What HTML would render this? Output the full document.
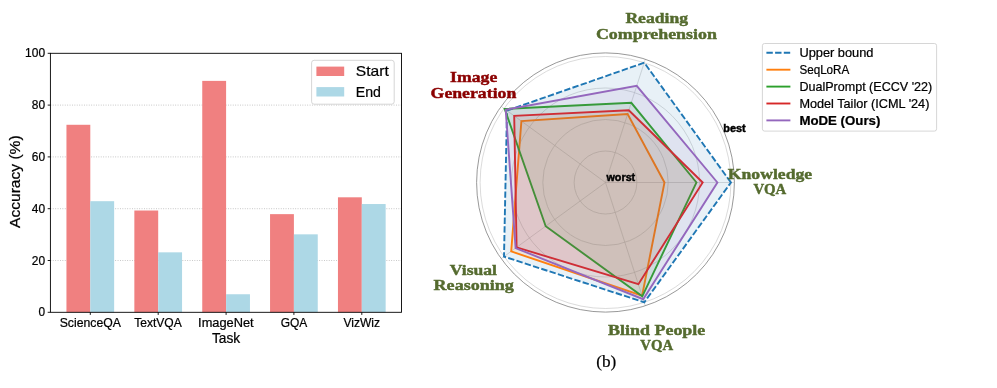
<!DOCTYPE html>
<html><head><meta charset="utf-8"><title>fig</title>
<style>
html,body{margin:0;padding:0;background:#fff;}
body{width:997px;height:388px;overflow:hidden;}
svg{display:block;will-change:transform;}
.sans{font-family:"Liberation Sans",sans-serif;}
.serif{font-family:"Liberation Serif",serif;}
text.sans{stroke:#000;stroke-width:0.22px;}
text.bl{stroke-width:0.45px;}
</style></head><body>
<svg width="997" height="388" viewBox="0 0 997 388">
<rect x="0" y="0" width="997" height="388" fill="#ffffff"/>

<g id="bar">
<line x1="50.4" y1="260.50" x2="401.5" y2="260.50" stroke="#b0b0b0" stroke-opacity="0.85" stroke-width="0.9" stroke-dasharray="0.9,1.5"/>
<line x1="50.4" y1="208.70" x2="401.5" y2="208.70" stroke="#b0b0b0" stroke-opacity="0.85" stroke-width="0.9" stroke-dasharray="0.9,1.5"/>
<line x1="50.4" y1="156.90" x2="401.5" y2="156.90" stroke="#b0b0b0" stroke-opacity="0.85" stroke-width="0.9" stroke-dasharray="0.9,1.5"/>
<line x1="50.4" y1="105.10" x2="401.5" y2="105.10" stroke="#b0b0b0" stroke-opacity="0.85" stroke-width="0.9" stroke-dasharray="0.9,1.5"/>
<rect x="66.45" y="124.78" width="23.85" height="187.52" fill="#f08080"/>
<rect x="90.30" y="201.19" width="23.85" height="111.11" fill="#add8e6"/>
<rect x="134.35" y="210.51" width="23.85" height="101.79" fill="#f08080"/>
<rect x="158.20" y="252.34" width="23.85" height="59.96" fill="#add8e6"/>
<rect x="202.25" y="80.88" width="23.85" height="231.42" fill="#f08080"/>
<rect x="226.10" y="294.25" width="23.85" height="18.05" fill="#add8e6"/>
<rect x="270.05" y="214.14" width="23.85" height="98.16" fill="#f08080"/>
<rect x="293.90" y="234.34" width="23.85" height="77.96" fill="#add8e6"/>
<rect x="337.95" y="197.30" width="23.85" height="115.00" fill="#f08080"/>
<rect x="361.80" y="204.04" width="23.85" height="108.26" fill="#add8e6"/>
<rect x="50.4" y="53.3" width="351.1" height="259.0" fill="none" stroke="#000" stroke-width="0.9"/>
<line x1="47.7" y1="312.30" x2="50.4" y2="312.30" stroke="#000" stroke-width="0.9"/>
<text class="sans" x="38.5" y="316.30" font-size="11.9" textLength="6.6" lengthAdjust="spacingAndGlyphs" fill="#000">0</text>
<line x1="47.7" y1="260.50" x2="50.4" y2="260.50" stroke="#000" stroke-width="0.9"/>
<text class="sans" x="31.8" y="264.50" font-size="11.9" textLength="13.3" lengthAdjust="spacingAndGlyphs" fill="#000">20</text>
<line x1="47.7" y1="208.70" x2="50.4" y2="208.70" stroke="#000" stroke-width="0.9"/>
<text class="sans" x="31.8" y="212.70" font-size="11.9" textLength="13.3" lengthAdjust="spacingAndGlyphs" fill="#000">40</text>
<line x1="47.7" y1="156.90" x2="50.4" y2="156.90" stroke="#000" stroke-width="0.9"/>
<text class="sans" x="31.8" y="160.90" font-size="11.9" textLength="13.3" lengthAdjust="spacingAndGlyphs" fill="#000">60</text>
<line x1="47.7" y1="105.10" x2="50.4" y2="105.10" stroke="#000" stroke-width="0.9"/>
<text class="sans" x="31.8" y="109.10" font-size="11.9" textLength="13.3" lengthAdjust="spacingAndGlyphs" fill="#000">80</text>
<line x1="47.7" y1="53.30" x2="50.4" y2="53.30" stroke="#000" stroke-width="0.9"/>
<text class="sans" x="25.1" y="57.30" font-size="11.9" textLength="20.0" lengthAdjust="spacingAndGlyphs" fill="#000">100</text>
<line x1="90.3" y1="312.3" x2="90.3" y2="314.9" stroke="#000" stroke-width="0.9"/>
<line x1="158.2" y1="312.3" x2="158.2" y2="314.9" stroke="#000" stroke-width="0.9"/>
<line x1="226.1" y1="312.3" x2="226.1" y2="314.9" stroke="#000" stroke-width="0.9"/>
<line x1="293.9" y1="312.3" x2="293.9" y2="314.9" stroke="#000" stroke-width="0.9"/>
<line x1="361.8" y1="312.3" x2="361.8" y2="314.9" stroke="#000" stroke-width="0.9"/>
<text class="sans" x="59.7" y="326.6" font-size="12.6" textLength="61.2" lengthAdjust="spacingAndGlyphs" fill="#000">ScienceQA</text>
<text class="sans" x="134.2" y="326.6" font-size="12.6" textLength="47.6" lengthAdjust="spacingAndGlyphs" fill="#000">TextVQA</text>
<text class="sans" x="198.1" y="326.6" font-size="12.6" textLength="55.6" lengthAdjust="spacingAndGlyphs" fill="#000">ImageNet</text>
<text class="sans" x="280.7" y="326.6" font-size="12.6" textLength="26.6" lengthAdjust="spacingAndGlyphs" fill="#000">GQA</text>
<text class="sans" x="343.4" y="326.6" font-size="12.6" textLength="36.6" lengthAdjust="spacingAndGlyphs" fill="#000">VizWiz</text>
<text class="sans" x="211.9" y="343.0" font-size="14" textLength="28.3" lengthAdjust="spacingAndGlyphs" fill="#000">Task</text>
<text class="sans" transform="translate(19.5,227.9) rotate(-90)" x="0" y="0" font-size="14.1" textLength="92.5" lengthAdjust="spacingAndGlyphs" fill="#000">Accuracy (%)</text>
<rect x="311.6" y="60.3" width="82.6" height="43.9" rx="2.5" ry="2.5" fill="#fff" fill-opacity="0.8" stroke="#cccccc" stroke-opacity="0.8" stroke-width="1"/>
<rect x="316.4" y="66.6" width="27.8" height="9.4" fill="#f08080"/>
<rect x="316.4" y="87.1" width="27.8" height="9.4" fill="#add8e6"/>
<text class="sans" x="355.8" y="76" font-size="15" textLength="33" lengthAdjust="spacingAndGlyphs" fill="#000">Start</text>
<text class="sans" x="355.8" y="97.2" font-size="15" textLength="25.2" lengthAdjust="spacingAndGlyphs" fill="#000">End</text>
</g>
<g id="radar">
<clipPath id="rc"><ellipse cx="605.5" cy="182.5" rx="128.9" ry="129.6"/></clipPath>
<ellipse cx="605.5" cy="182.5" rx="31.35" ry="31.50" fill="none" stroke="#c2c2c2" stroke-width="0.6"/>
<ellipse cx="605.5" cy="182.5" rx="62.70" ry="63.00" fill="none" stroke="#c2c2c2" stroke-width="0.6"/>
<ellipse cx="605.5" cy="182.5" rx="94.05" ry="94.50" fill="none" stroke="#c2c2c2" stroke-width="0.6"/>
<ellipse cx="605.5" cy="182.5" rx="125.40" ry="126.00" fill="none" stroke="#c2c2c2" stroke-width="0.6"/>
<line x1="605.5" y1="182.5" x2="734.4" y2="182.5" stroke="#c2c2c2" stroke-width="0.6"/>
<line x1="605.5" y1="182.5" x2="645.3" y2="59.3" stroke="#c2c2c2" stroke-width="0.6"/>
<line x1="605.5" y1="182.5" x2="501.2" y2="106.4" stroke="#c2c2c2" stroke-width="0.6"/>
<line x1="605.5" y1="182.5" x2="501.2" y2="258.6" stroke="#c2c2c2" stroke-width="0.6"/>
<line x1="605.5" y1="182.5" x2="645.3" y2="305.7" stroke="#c2c2c2" stroke-width="0.6"/>
<polygon points="730.9,182.5 644.3,62.7 507.0,110.6 504.0,256.6 644.3,302.3" fill="#1f77b4" fill-opacity="0.1" stroke="none"/>
<polygon points="730.9,182.5 644.3,62.7 507.0,110.6 504.0,256.6 644.3,302.3" fill="none" stroke="#1f77b4" stroke-width="1.9" stroke-dasharray="6.4,2.3" stroke-linejoin="miter"/>
<polygon points="664.5,182.5 627.6,114.1 521.4,121.1 511.2,251.4 642.1,295.7" fill="#ff7f0e" fill-opacity="0.1" stroke="none"/>
<polygon points="664.5,182.5 627.6,114.1 521.4,121.1 511.2,251.4 642.1,295.7" fill="none" stroke="#ff7f0e" stroke-width="1.9" stroke-linejoin="miter"/>
<polygon points="696.5,182.5 631.3,102.8 504.7,108.9 545.7,226.2 642.3,296.3" fill="#2ca02c" fill-opacity="0.1" stroke="none"/>
<polygon points="696.5,182.5 631.3,102.8 504.7,108.9 545.7,226.2 642.3,296.3" fill="none" stroke="#2ca02c" stroke-width="1.9" stroke-linejoin="miter"/>
<polygon points="702.7,182.5 628.8,110.3 514.2,115.9 516.6,247.4 638.4,284.2" fill="#d62728" fill-opacity="0.1" stroke="none"/>
<polygon points="702.7,182.5 628.8,110.3 514.2,115.9 516.6,247.4 638.4,284.2" fill="none" stroke="#d62728" stroke-width="1.9" stroke-linejoin="miter"/>
<polygon points="717.4,182.5 636.7,85.9 505.7,109.7 515.6,248.1 643.2,299.2" fill="#9467bd" fill-opacity="0.1" stroke="none"/>
<polygon points="717.4,182.5 636.7,85.9 505.7,109.7 515.6,248.1 643.2,299.2" fill="none" stroke="#9467bd" stroke-width="1.9" stroke-linejoin="miter"/>
<ellipse cx="605.5" cy="182.5" rx="128.9" ry="129.6" fill="none" stroke="#777777" stroke-width="0.75"/>
<text class="sans bl" font-weight="bold" x="723.3" y="132.4" font-size="10.3" textLength="22.4" lengthAdjust="spacingAndGlyphs" fill="#000">best</text>
<text class="sans bl" font-weight="bold" x="606.5" y="180.9" font-size="10.3" textLength="28.7" lengthAdjust="spacingAndGlyphs" fill="#000">worst</text>
<text class="serif" font-weight="bold" x="625.4" y="22.8" font-size="15.6" textLength="62.6" lengthAdjust="spacingAndGlyphs" fill="#556b2f" stroke="#556b2f" stroke-width="0.45">Reading</text>
<text class="serif" font-weight="bold" x="595.9" y="38.6" font-size="15.6" textLength="121.0" lengthAdjust="spacingAndGlyphs" fill="#556b2f" stroke="#556b2f" stroke-width="0.45">Comprehension</text>
<text class="serif" font-weight="bold" x="450.1" y="82.1" font-size="15.6" textLength="47.2" lengthAdjust="spacingAndGlyphs" fill="#8b0000" stroke="#8b0000" stroke-width="0.45">Image</text>
<text class="serif" font-weight="bold" x="430.6" y="98.0" font-size="15.6" textLength="85.7" lengthAdjust="spacingAndGlyphs" fill="#8b0000" stroke="#8b0000" stroke-width="0.45">Generation</text>
<text class="serif" font-weight="bold" x="727.8" y="178.6" font-size="15.6" textLength="84.4" lengthAdjust="spacingAndGlyphs" fill="#556b2f" stroke="#556b2f" stroke-width="0.45">Knowledge</text>
<text class="serif" font-weight="bold" x="753.4" y="194.1" font-size="15.6" textLength="32.9" lengthAdjust="spacingAndGlyphs" fill="#556b2f" stroke="#556b2f" stroke-width="0.45">VQA</text>
<text class="serif" font-weight="bold" x="449.8" y="274.7" font-size="15.6" textLength="47.2" lengthAdjust="spacingAndGlyphs" fill="#556b2f" stroke="#556b2f" stroke-width="0.45">Visual</text>
<text class="serif" font-weight="bold" x="433.6" y="290.1" font-size="15.6" textLength="80.2" lengthAdjust="spacingAndGlyphs" fill="#556b2f" stroke="#556b2f" stroke-width="0.45">Reasoning</text>
<text class="serif" font-weight="bold" x="608.1" y="334.6" font-size="15.6" textLength="97.2" lengthAdjust="spacingAndGlyphs" fill="#556b2f" stroke="#556b2f" stroke-width="0.45">Blind People</text>
<text class="serif" font-weight="bold" x="640.3" y="350.2" font-size="15.6" textLength="32.8" lengthAdjust="spacingAndGlyphs" fill="#556b2f" stroke="#556b2f" stroke-width="0.45">VQA</text>
<text class="serif" x="596.2" y="366.6" font-size="16.4" textLength="20.1" lengthAdjust="spacingAndGlyphs" fill="#000" stroke="#000" stroke-width="0.2">(b)</text>
<rect x="762.4" y="43.5" width="174.2" height="87.6" rx="2.2" ry="2.2" fill="#fff" fill-opacity="0.8" stroke="#cccccc" stroke-opacity="0.8" stroke-width="1"/>
<line x1="766.4" y1="52.7" x2="790.4" y2="52.7" stroke="#1f77b4" stroke-width="1.9" stroke-dasharray="6.4,2.3"/>
<text class="sans" x="799.4" y="57.1" font-size="12.1" textLength="74.1" lengthAdjust="spacingAndGlyphs" fill="#000">Upper bound</text>
<line x1="766.4" y1="69.7" x2="790.4" y2="69.7" stroke="#ff7f0e" stroke-width="1.9"/>
<text class="sans" x="799.4" y="73.9" font-size="12.1" textLength="49.9" lengthAdjust="spacingAndGlyphs" fill="#000">SeqLoRA</text>
<line x1="766.4" y1="86.6" x2="790.4" y2="86.6" stroke="#2ca02c" stroke-width="1.9"/>
<text class="sans" x="799.4" y="90.7" font-size="12.1" textLength="132.8" lengthAdjust="spacingAndGlyphs" fill="#000">DualPrompt (ECCV &#39;22)</text>
<line x1="766.4" y1="103.5" x2="790.4" y2="103.5" stroke="#d62728" stroke-width="1.9"/>
<text class="sans" x="799.4" y="107.8" font-size="12.1" textLength="130.0" lengthAdjust="spacingAndGlyphs" fill="#000">Model Tailor (ICML &#39;24)</text>
<line x1="766.4" y1="120.4" x2="790.4" y2="120.4" stroke="#9467bd" stroke-width="1.9"/>
<text class="sans" font-weight="bold" x="799.4" y="124.7" font-size="12.1" textLength="81.0" lengthAdjust="spacingAndGlyphs" fill="#000">MoDE (Ours)</text>
</g>
</svg></body></html>
